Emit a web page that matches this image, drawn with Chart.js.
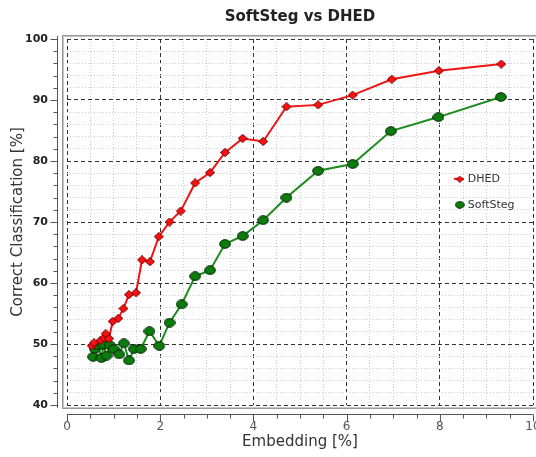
<!DOCTYPE html>
<html>
<head>
<meta charset="utf-8">
<script src="https://cdn.jsdelivr.net/npm/chart.js@4.4.1/dist/chart.umd.min.js"></script>
<style>
  html, body { margin: 0; padding: 0; background: #fff; }
  #wrap { width: 536px; height: 457px; }
</style>
</head>
<body>
<div id="wrap"><canvas id="steg"></canvas></div>
<script>
// data
var seriesNames = ["DHED", "SoftSteg"];
var dhedX = [0.53, 0.58, 0.72, 0.79, 0.83, 0.90, 0.98, 1.10, 1.21, 1.33, 1.48, 1.61, 1.78, 1.97, 2.20, 2.44, 2.75, 3.07, 3.39, 3.77, 4.21, 4.71, 5.39, 6.13, 6.97, 7.98, 9.32];
var dhedY = [49.7, 50.2, 50.6, 51.0, 51.7, 50.9, 53.7, 54.2, 55.8, 58.1, 58.4, 63.8, 63.5, 67.6, 70.0, 71.8, 76.4, 78.1, 81.4, 83.7, 83.2, 88.9, 89.2, 90.8, 93.4, 94.8, 95.9];
var softX = [0.56, 0.60, 0.66, 0.74, 0.78, 0.85, 0.92, 1.00, 1.12, 1.22, 1.33, 1.44, 1.58, 1.77, 1.98, 2.20, 2.46, 2.75, 3.07, 3.39, 3.77, 4.21, 4.71, 5.39, 6.13, 6.95, 7.97, 9.31];
var softY = [47.9, 49.2, 49.8, 47.7, 49.9, 48.1, 49.8, 49.2, 48.3, 50.1, 47.3, 49.2, 49.2, 52.1, 49.7, 53.5, 56.5, 61.1, 62.1, 66.4, 67.7, 70.3, 74.0, 78.4, 79.5, 84.9, 87.2, 90.5];
var xTicks = [0, 2, 4, 6, 8, 10];
var yTicks = [40, 50, 60, 70, 80, 90, 100];

function makeMarker(w, h, shape, fill, stroke) {
  var c = document.createElement('canvas');
  c.width = w; c.height = h;
  var g = c.getContext('2d');
  g.beginPath();
  if (shape == 'diamond') {
    g.moveTo(w / 2, 0.5); g.lineTo(w - 0.5, h / 2); g.lineTo(w / 2, h - 0.5); g.lineTo(0.5, h / 2);
    g.closePath();
  } else {
    g.ellipse(w / 2, h / 2, w / 2 - 0.7, h / 2 - 0.7, 0, 0, Math.PI * 2);
  }
  g.fillStyle = fill; g.fill();
  g.lineWidth = 1; g.strokeStyle = stroke; g.stroke();
  return c;
}

var redMark = makeMarker(10, 9, 'diamond', '#ff1010', '#6a0000');
var greenMark = makeMarker(12, 10, 'ellipse', '#0c7c0c', '#002200');

function pairs(xs, ys) {
  return xs.map(function (x, i) { return { x: x, y: ys[i] }; });
}

function isMajor(v, step) {
  return Math.abs(v / step - Math.round(v / step)) < 1e-6;
}

// gray frame, offset axes with tick marks, legend inside the plot
var decor = {
  id: 'decor',
  afterDraw: function (chart) {
    var a = chart.chartArea, ctx = chart.ctx;
    var xs = chart.scales.x, ys = chart.scales.y;
    ctx.save();
    ctx.strokeStyle = '#9a9a9a'; ctx.lineWidth = 1;
    ctx.strokeRect(a.left - 4.5, a.top - 3.5, a.right - a.left + 9, a.bottom - a.top + 7);
    ctx.strokeStyle = '#c4c4c4';
    ctx.strokeRect(a.left - 3.5, a.top - 2.5, a.right - a.left + 7, a.bottom - a.top + 5);

    ctx.strokeStyle = '#555'; ctx.lineWidth = 1;
    var ax = a.left - 9.5;
    ctx.beginPath();
    ctx.moveTo(ax, a.top - 3); ctx.lineTo(ax, a.bottom + 3);
    ys.ticks.forEach(function (t) {
      var p = Math.round(ys.getPixelForValue(t.value)) + 0.5;
      var len = isMajor(t.value, 10) ? 7 : 4;
      ctx.moveTo(ax, p); ctx.lineTo(ax - len, p);
    });
    var ay = a.bottom + 9.5;
    ctx.moveTo(a.left, ay); ctx.lineTo(a.right, ay);
    xs.ticks.forEach(function (t) {
      var p = Math.round(xs.getPixelForValue(t.value)) + 0.5;
      var len = isMajor(t.value, 2) ? 7 : 4;
      ctx.moveTo(p, ay); ctx.lineTo(p, ay + len);
    });
    ctx.stroke();

    // legend
    var lx = a.left + (a.right - a.left) * 0.83;
    var ly = a.top + (a.bottom - a.top) * 0.382;
    ctx.font = '11px "DejaVu Sans"';
    ctx.fillStyle = '#333';
    ctx.textBaseline = 'middle';
    chart.data.datasets.forEach(function (ds, i) {
      var y = ly + i * 26;
      if (i == 0) {
        ctx.strokeStyle = ds.borderColor; ctx.lineWidth = 2;
        ctx.beginPath(); ctx.moveTo(lx, y); ctx.lineTo(lx + 10, y); ctx.stroke();
        ctx.drawImage(redMark, lx + 2, y - 3, 8, 7);
      } else {
        ctx.drawImage(greenMark, lx + 1, y - 4, 10, 8);
      }
      ctx.fillText(ds.label, lx + 14, y);
    });
    ctx.restore();
  }
};

new Chart("steg", {
  type: "line",
  data: {
    datasets: [{
      label: seriesNames[0],
      data: pairs(dhedX, dhedY),
      borderColor: "#f01414",
      borderWidth: 2,
      pointStyle: redMark,
      tension: 0
    }, {
      label: seriesNames[1],
      data: pairs(softX, softY),
      borderColor: "#1c8c1c",
      borderWidth: 2,
      pointStyle: greenMark,
      tension: 0
    }]
  },
  options: {
    responsive: true,
    maintainAspectRatio: false,
    animation: false,
    layout: { autoPadding: false, padding: { left: 9, right: 3, top: 0, bottom: 4 } },
    plugins: {
      legend: { display: false },
      tooltip: { enabled: false },
      title: {
        display: true,
        fullSize: false,
        text: "SoftSteg vs DHED",
        color: "#222",
        font: { family: "DejaVu Sans", size: 15, weight: "bold" },
        padding: { top: 8, bottom: 13 }
      }
    },
    scales: {
      x: {
        type: "linear",
        min: 0, max: 10,
        afterFit: function (s) { s.height = 48; s.paddingRight = 0; s.paddingLeft = 0; },
        ticks: {
          stepSize: 0.5,
          autoSkip: false,
          maxRotation: 0,
          padding: 15,
          color: "#555",
          font: { family: "DejaVu Sans", size: 12 },
          callback: function (v) { return xTicks.indexOf(v) >= 0 ? String(v) : ''; }
        },
        grid: {
          drawTicks: false,
          color: function (c) { return c.tick && isMajor(c.tick.value, 2) ? "#333" : "#cdcdcd"; },
          lineWidth: 1
        },
        border: {
          display: false,
          dash: function (c) { return c.tick && isMajor(c.tick.value, 2) ? [4, 3] : [1, 2]; }
        },
        title: {
          display: true,
          text: "Embedding [%]",
          color: "#333",
          font: { family: "DejaVu Sans", size: 15 },
          padding: { top: 0, bottom: 2 }
        }
      },
      y: {
        min: 40, max: 100,
        afterFit: function (s) { s.width = 58; },
        ticks: {
          stepSize: 2,
          autoSkip: false,
          padding: 19,
          color: "#222",
          font: { family: "DejaVu Sans", size: 11, weight: "bold" },
          callback: function (v) { return yTicks.indexOf(v) >= 0 ? String(v) : ''; }
        },
        grid: {
          drawTicks: false,
          color: function (c) { return c.tick && isMajor(c.tick.value, 10) ? "#333" : "#cdcdcd"; },
          lineWidth: 1
        },
        border: {
          display: false,
          dash: function (c) { return c.tick && isMajor(c.tick.value, 10) ? [4, 3] : [1, 2]; }
        },
        title: {
          display: true,
          text: "Correct Classification [%]",
          color: "#333",
          font: { family: "DejaVu Sans", size: 15 },
          padding: { top: 0, bottom: 4 }
        }
      }
    }
  },
  plugins: [decor]
});
</script>
</body>
</html>
